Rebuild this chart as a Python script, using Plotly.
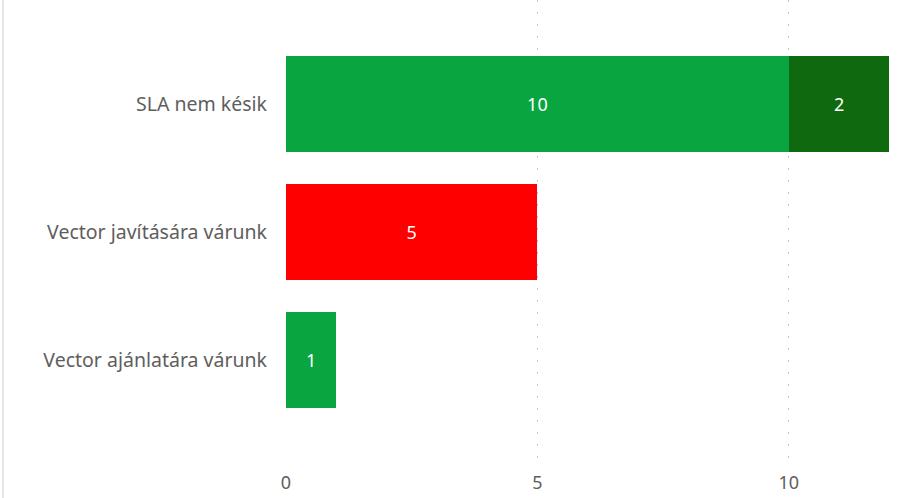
import plotly.graph_objects as go

categories = ["SLA nem késik", "Vector javítására várunk", "Vector ajánlatára várunk"]
green_vals = [10, None, 1]
red_vals = [None, 5, None]
dark_green_vals = [2, None, None]
tick_vals = [0, 5, 10]
tick_text = ["0", "5", "10"]

font_family = "Segoe UI, Noto Sans, Open Sans, sans-serif"

fig = go.Figure()
for vals, color in [(green_vals, "#08A540"), (red_vals, "#FF0000"), (dark_green_vals, "#0F6A0F")]:
    fig.add_trace(go.Bar(
        y=categories, x=vals, orientation="h",
        marker=dict(color=color, line=dict(width=0)),
        text=[("" if v is None else str(v)) for v in vals],
        textposition="inside", insidetextanchor="middle",
        textfont=dict(color="white", size=18, family=font_family),
        width=0.75, hoverinfo="x+y",
    ))

fig.update_layout(
    barmode="stack",
    width=910, height=498,
    margin=dict(l=286, r=5, t=0, b=32),
    paper_bgcolor="white", plot_bgcolor="white",
    showlegend=False,
    uniformtext=dict(minsize=8, mode="show"),
    font=dict(family=font_family, color="#605E5C"),
    xaxis=dict(
        range=[0, 12.31], tickvals=tick_vals, ticktext=tick_text,
        showgrid=True, gridcolor="#C8C8C8", griddash="2px,10px", gridwidth=1,
        zeroline=False, showline=False,
        tickfont=dict(size=18, color="#605E5C"), ticks="", ticklabelstandoff=4,
    ),
    yaxis=dict(
        range=[2.828, -0.8125], type="category",
        showgrid=False, zeroline=False, showline=False,
        tickfont=dict(size=19.5, color="#605E5C"), ticks="", ticklabelstandoff=18,
    ),
    shapes=[dict(type="line", xref="paper", yref="paper",
                 x0=-283/619, x1=-283/619, y0=-0.1, y1=1.0,
                 line=dict(color="#E6E6E6", width=2))],
)

fig.write_html("out.html", config={"displayModeBar": False},
               post_script="document.body.style.margin='0';document.body.style.overflow='hidden';")
